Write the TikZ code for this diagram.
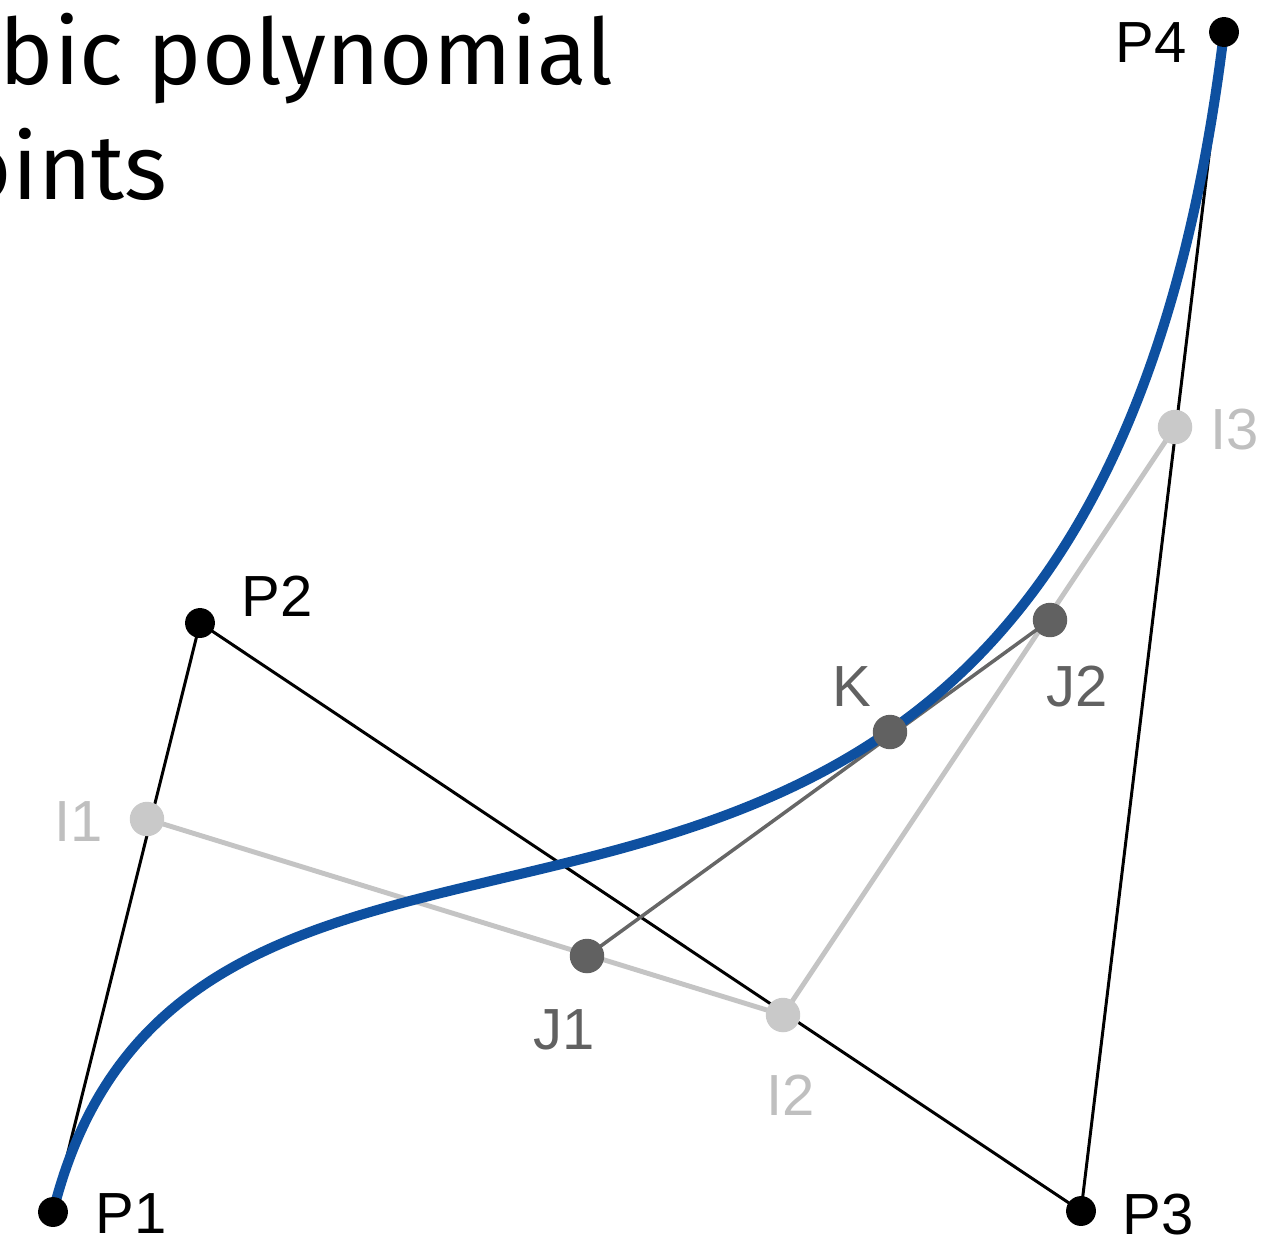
\documentclass[tikz,border=0pt]{standalone}
\usepackage{fontspec}
\setmainfont{Liberation Sans}
\newfontfamily\titlefont{Fira Sans}
\definecolor{curveblue}{RGB}{14,80,160}
\begin{document}
\begin{tikzpicture}[x=0.01cm,y=-0.01cm,
  ctrl/.style={draw=black, line width=0.85pt},
  iline/.style={draw=black!23, line width=1.4pt},
  jline/.style={draw=black!60, line width=1pt},
  bez/.style={draw=curveblue, line width=2.85pt},
  pdot/.style={circle, fill=black, inner sep=0pt, minimum size=8.5pt},
  idot/.style={circle, fill=black!21, inner sep=0pt, minimum size=9.8pt},
  jdot/.style={circle, fill=black!62, inner sep=0pt, minimum size=9.8pt},
  lab/.style={font=\fontsize{16.5}{18}\selectfont, inner sep=0pt},
  plab/.style={lab, text=black},
  ilab/.style={lab, text=black!25},
  jlab/.style={lab, text=black!62},
  ttl/.style={font=\titlefont\fontsize{26}{30}\selectfont, inner sep=0pt, text=black},
]
\useasboundingbox (0,0) rectangle (1264,1242);
% title (cut off at the left edge)
\node[ttl, anchor=base west] (t1) at (-1,84) {bic polynomial};
\node[ttl, anchor=base east] (t2) at (168,199) {oints};
% points
\coordinate (p1) at (53,1212);
\coordinate (p2) at (200,623);
\coordinate (p3) at (1081,1211);
\coordinate (p4) at (1224,32);
\coordinate (i1) at (147,819);
\coordinate (i2) at (783,1015);
\coordinate (i3) at (1175,427);
\coordinate (j1) at (587,956);
\coordinate (j2) at (1050,620);
\coordinate (k) at (890,732);
% control polygon
\draw[ctrl] (p1) -- (p2);
\draw[ctrl] (p2) -- (p3);
\draw[ctrl] (p3) -- (p4);
% first level
\draw[iline] (i1) -- (i2);
\draw[iline] (i2) -- (i3);
% second level
\draw[jline] (j1) -- (j2);
% curve
\draw[bez] (p1) .. controls (p2) and (p3) .. (p4);
% dots
\node[pdot] (P1) at (p1) {};
\node[pdot] (P2) at (p2) {};
\node[pdot] (P3) at (p3) {};
\node[pdot] (P4) at (p4) {};
\node[idot] (I1) at (i1) {};
\node[idot] (I2) at (i2) {};
\node[idot] (I3) at (i3) {};
\node[jdot] (J1) at (j1) {};
\node[jdot] (J2) at (j2) {};
\node[jdot] (K) at (k) {};
% labels
\node[plab] (lP1) at (131,1214) {P1};
\node[plab] (lP2) at (277,596) {P2};
\node[plab] (lP3) at (1158,1215) {P3};
\node[plab] (lP4) at (1151,43) {P4};
\node[ilab] (lI1) at (79,822) {I1};
\node[ilab] (lI2) at (791,1095) {I2};
\node[ilab] (lI3) at (1235,430) {I3};
\node[jlab] (lJ1) at (564,1030) {J1};
\node[jlab] (lJ2) at (1077,687) {J2};
\node[jlab] (lK) at (852,687) {K};
\end{tikzpicture}
\end{document}
